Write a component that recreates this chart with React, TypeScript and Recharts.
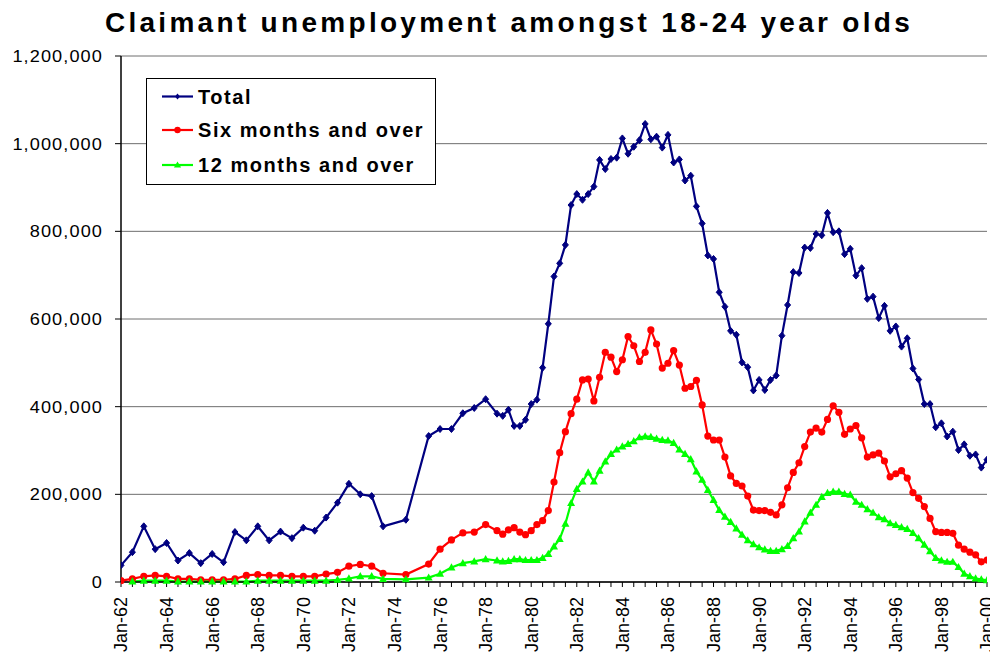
import React from 'react';
import { LineChart, Line, XAxis, YAxis, CartesianGrid } from 'recharts';

// Period (decimal year) of each observation
const periods: number[] = [
  1962.0, 1962.5, 1963.0, 1963.5, 1964.0, 1964.5, 1965.0, 1965.5, 1966.0, 1966.5,
  1967.0, 1967.5, 1968.0, 1968.5, 1969.0, 1969.5, 1970.0, 1970.5, 1971.0, 1971.5,
  1972.0, 1972.5, 1973.0, 1973.5, 1974.5, 1975.5, 1976.0, 1976.5, 1977.0, 1977.5,
  1978.0, 1978.5,
  1978.75, 1979.0, 1979.25, 1979.5, 1979.75, 1980.0, 1980.25, 1980.5, 1980.75,
  1981.0, 1981.25, 1981.5, 1981.75, 1982.0, 1982.25, 1982.5, 1982.75,
  1983.0, 1983.25, 1983.5, 1983.75, 1984.0, 1984.25, 1984.5, 1984.75,
  1985.0, 1985.25, 1985.5, 1985.75, 1986.0, 1986.25, 1986.5, 1986.75,
  1987.0, 1987.25, 1987.5, 1987.75, 1988.0, 1988.25, 1988.5, 1988.75,
  1989.0, 1989.25, 1989.5, 1989.75, 1990.0, 1990.25, 1990.5, 1990.75,
  1991.0, 1991.25, 1991.5, 1991.75, 1992.0, 1992.25, 1992.5, 1992.75,
  1993.0, 1993.25, 1993.5, 1993.75, 1994.0, 1994.25, 1994.5, 1994.75,
  1995.0, 1995.25, 1995.5, 1995.75, 1996.0, 1996.25, 1996.5, 1996.75,
  1997.0, 1997.25, 1997.5, 1997.75, 1998.0, 1998.25, 1998.5, 1998.75,
  1999.0, 1999.25, 1999.5, 1999.75, 2000.0,
];

// Values in thousands
const total: number[] = [
  38, 68, 127, 75, 89, 49, 66, 43, 64, 45,
  114, 95, 127, 95, 115, 100, 124, 117, 147, 181,
  224, 200, 196, 127, 142, 333, 349, 349, 385, 397,
  417, 384,
  379, 393, 356, 356, 370, 406, 416, 489, 589,
  697, 727, 769, 860, 885, 872, 885, 902,
  963, 942, 965, 968, 1012, 977, 993, 1008,
  1045, 1010, 1016, 991, 1020, 957, 964, 916,
  927, 857, 818, 745, 737, 661, 628, 573,
  564, 501, 490, 437, 461, 438, 461, 471,
  562, 632, 707, 705, 763, 762, 794, 791,
  842, 798, 800, 748, 760, 699, 716, 646,
  651, 602, 630, 573, 583, 537, 556, 487,
  462, 406, 406, 353, 362, 332, 343, 301,
  314, 288, 291, 261, 279,
];

const sixMonths: number[] = [
  3, 7, 13, 15, 13, 7, 7, 5, 5, 5,
  7, 15, 17, 15, 15, 13, 13, 13, 18, 22,
  36, 40, 36, 20, 17, 41, 75, 96, 112, 114,
  131, 117,
  109, 119, 124, 114, 108, 117, 131, 140, 163,
  228, 295, 343, 384, 417, 461, 463, 413,
  467, 524, 513, 480, 507, 560, 539, 503,
  524, 575, 543, 488, 499, 528, 495, 442,
  446, 460, 404, 333, 324, 324, 285, 242,
  225, 219, 196, 164, 163, 163, 159, 153,
  176, 215, 250, 272, 309, 342, 351, 342,
  371, 402, 387, 337, 349, 357, 329, 285,
  290, 294, 276, 240, 247, 254, 237, 204,
  191, 172, 145, 115, 113, 113, 111, 84,
  75, 68, 62, 46, 50,
];

const twelveMonths: (number | null)[] = [
  null, 1, 3, 3, 3, 1, 1, 1, 1, 1,
  1, 1, 3, 3, 3, 3, 3, 3, 3, 5,
  8, 13, 13, 7, 6, 10, 19, 33, 43, 47,
  52, 49,
  47, 48, 52, 52, 50, 50, 50, 55, 64,
  81, 98, 133, 180, 212, 229, 250, 229,
  254, 275, 292, 302, 309, 315, 321, 330,
  332, 331, 327, 324, 323, 317, 302, 292,
  280, 252, 233, 210, 187, 164, 149, 137,
  122, 108, 95, 86, 79, 74, 71, 71,
  75, 82, 100, 115, 138, 158, 176, 194,
  203, 206, 206, 201, 199, 183, 176, 166,
  158, 148, 143, 134, 130, 125, 121, 112,
  100, 85, 70, 55, 49, 46, 46, 34,
  19, 13, 8, 6, 4,
];

const seriesNames = ['Total', 'Six months and over', '12 months and over'];
const seriesColors = ['#000080', '#FF0000', '#00FF00'];

const yTicks: number[] = [0, 200, 400, 600, 800, 1000, 1200];
const xLabelYears: number[] = [
  1962, 1964, 1966, 1968, 1970, 1972, 1974, 1976, 1978, 1980,
  1982, 1984, 1986, 1988, 1990, 1992, 1994, 1996, 1998, 2000,
];
const monthLabel = 'Jan';

const title = 'Claimant unemployment amongst 18-24 year olds';

// half-year minor tick positions derived from the labelled years
const xTicks: number[] = xLabelYears.flatMap((y, i) =>
  i < xLabelYears.length - 1 ? [y, y + 0.5, y + 1, y + 1.5] : [y]
);

const data = periods.map((t, i) => ({
  t,
  total: total[i],
  six: sixMonths[i],
  twelve: twelveMonths[i],
}));

const FONT = '"Liberation Sans", Arial, Helvetica, sans-serif';

const fmtThousands = (v: number) => (v * 1000).toLocaleString('en-US');

const Diamond = (props: any) => {
  const { cx, cy, key } = props;
  if (cx == null || cy == null || props.value == null) return <g key={key} />;
  return (
    <polygon
      key={key}
      points={`${cx},${cy - 3.5} ${cx + 3},${cy} ${cx},${cy + 3.5} ${cx - 3},${cy}`}
      fill={seriesColors[0]}
      stroke={seriesColors[0]}
      strokeWidth={1}
    />
  );
};

const Circle = (props: any) => {
  const { cx, cy, key } = props;
  if (cx == null || cy == null || props.value == null) return <g key={key} />;
  return <circle key={key} cx={cx} cy={cy} r={3.6} fill={seriesColors[1]} stroke="none" />;
};

const Triangle = (props: any) => {
  const { cx, cy, key } = props;
  if (cx == null || cy == null || props.value == null) return <g key={key} />;
  return (
    <polygon
      key={key}
      points={`${cx},${cy - 4.2} ${cx + 4},${cy + 3} ${cx - 4},${cy + 3}`}
      fill={seriesColors[2]}
      stroke="none"
    />
  );
};

const YTick = (props: any) => {
  const { x, y, payload } = props;
  return (
    <g transform={`translate(${x},${y}) scale(1.1,1)`}>
      <text
        x={0}
        y={0}
        dy="0.36em"
        textAnchor="end"
        fontFamily={FONT}
        fontSize={16.5}
        letterSpacing={1}
        fill="#000"
      >
        {fmtThousands(payload.value)}
      </text>
    </g>
  );
};

const XTick = (props: any) => {
  const { x, y, payload } = props;
  const v = payload.value as number;
  if (!xLabelYears.includes(v)) return <g />;
  const yy = String(v % 100).padStart(2, '0');
  return (
    <g transform={`translate(${x},${y}) rotate(-90)`}>
      <text
        x={0}
        y={0}
        dy="0.36em"
        textAnchor="end"
        fontFamily={FONT}
        fontSize={18}
        fill="#000"
      >
        {`${monthLabel}-${yy}`}
      </text>
    </g>
  );
};

const LegendMark = ({ idx, x, y }: { idx: number; x: number; y: number }) => {
  const c = seriesColors[idx];
  if (idx === 0)
    return <polygon points={`${x},${y - 3} ${x + 2.5},${y} ${x},${y + 3} ${x - 2.5},${y}`} fill={c} />;
  if (idx === 1) return <circle cx={x} cy={y} r={3.2} fill={c} />;
  return <polygon points={`${x},${y - 3.6} ${x + 3.6},${y + 2.6} ${x - 3.6},${y + 2.6}`} fill={c} />;
};

export default function App() {
  const rowY = [18.5, 52, 87];
  return (
    <div
      style={{
        position: 'absolute',
        left: 0,
        top: 0,
        width: 990,
        height: 655,
        overflow: 'hidden',
        background: '#fff',
      }}
    >
      <LineChart
        width={1000}
        height={655}
        data={data}
        margin={{ top: 56, right: 13, bottom: 0, left: 0 }}
      >
        <CartesianGrid horizontal vertical={false} stroke="#6e6e6e" strokeWidth={1} />
        <XAxis
          type="number"
          dataKey="t"
          domain={[1962, 2000]}
          ticks={xTicks}
          interval={0}
          allowDataOverflow
          height={73}
          tickSize={5}
          tickMargin={10}
          tick={<XTick />}
          axisLine={{ stroke: '#000', strokeWidth: 1.5 }}
          tickLine={{ stroke: '#000' }}
        />
        <YAxis
          type="number"
          domain={[0, 1200]}
          ticks={yTicks}
          interval={0}
          width={121}
          tickSize={6}
          tickMargin={12}
          tick={<YTick />}
          axisLine={{ stroke: '#000', strokeWidth: 1.5 }}
          tickLine={{ stroke: '#000' }}
        />
        <Line
          type="linear"
          dataKey="total"
          name={seriesNames[0]}
          stroke={seriesColors[0]}
          strokeWidth={2.2}
          dot={Diamond}
          activeDot={false}
          isAnimationActive={false}
        />
        <Line
          type="linear"
          dataKey="six"
          name={seriesNames[1]}
          stroke={seriesColors[1]}
          strokeWidth={2.2}
          dot={Circle}
          activeDot={false}
          isAnimationActive={false}
        />
        <Line
          type="linear"
          dataKey="twelve"
          name={seriesNames[2]}
          stroke={seriesColors[2]}
          strokeWidth={2.2}
          dot={Triangle}
          activeDot={false}
          connectNulls={false}
          isAnimationActive={false}
        />
      </LineChart>

      {/* Title */}
      <svg
        width={990}
        height={50}
        style={{ position: 'absolute', left: 0, top: 0, pointerEvents: 'none' }}
      >
        <text
          x={509}
          y={31.5}
          textAnchor="middle"
          fontFamily={FONT}
          fontWeight="bold"
          fontSize={28}
          letterSpacing={3.3}
          fill="#000"
        >
          {title}
        </text>
      </svg>

      {/* Legend */}
      <svg
        width={291}
        height={108}
        style={{ position: 'absolute', left: 146, top: 78, pointerEvents: 'none' }}
      >
        <rect x={0.5} y={0.5} width={289} height={106} fill="#fff" stroke="#000" strokeWidth={1} />
        {seriesNames.map((name, i) => (
          <g key={name}>
            <line x1={16} x2={47} y1={rowY[i]} y2={rowY[i]} stroke={seriesColors[i]} strokeWidth={2.2} />
            <LegendMark idx={i} x={31.5} y={rowY[i]} />
            <text
              x={52}
              y={rowY[i] + 7}
              fontFamily={FONT}
              fontWeight="bold"
              fontSize={20}
              letterSpacing={1.55}
              fill="#000"
            >
              {name}
            </text>
          </g>
        ))}
      </svg>
    </div>
  );
}
